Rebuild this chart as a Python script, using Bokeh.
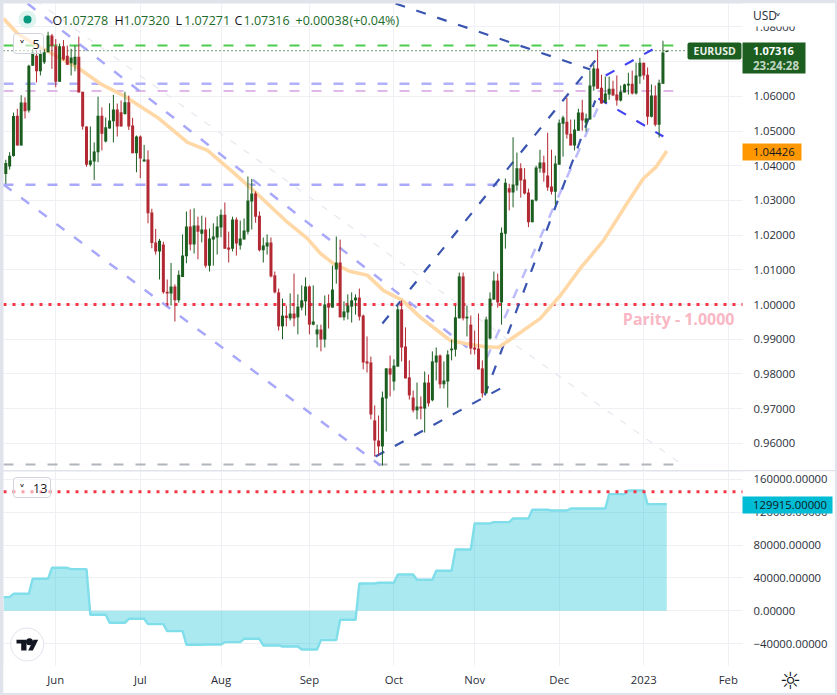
from bokeh.plotting import figure
from bokeh.layouts import column
from bokeh.models import Range1d, FixedTicker, Label, BoxAnnotation, ColumnDataSource
from bokeh.embed import file_html
from bokeh.resources import INLINE

# ---------- data ----------
opens = [1.0376,1.0398,1.0428,1.0544,1.0458,1.0582,1.0559,1.0688,1.0717,1.0672,
1.0698,1.0727,1.0775,1.0744,1.0642,1.0744,1.0717,1.0695,1.0691,1.0714,
1.0613,1.0513,1.0403,1.0412,1.0439,1.0544,1.0470,1.0507,1.0528,1.0562,
1.0554,1.0549,1.0583,1.0516,1.0436,1.0484,1.0412,1.0418,1.0265,1.0179,
1.0153,1.0173,1.0037,1.0032,1.0052,1.0012,1.0079,1.0139,1.0225,1.0173,
1.0228,1.0204,1.0216,1.0112,1.0187,1.0193,1.0222,1.0259,1.0164,1.0161,
1.0245,1.0170,1.0187,1.0210,1.0297,1.0320,1.0256,1.0156,1.0167,1.0179,
1.0084,1.0035,.9937,.9968,.9960,.9974,.9963,.9991,1.0009,1.0052,
.9942,.9914,.9928,.9899,1.0003,.9991,1.0101,1.0121,.9963,.9977,
.9994,1.0012,1.0020,.9968,.9836,.9833,.9666,.9608,.9591,.9729,
.9816,.9778,.9821,.9986,.9879,.9790,.9732,.9695,.9706,.9700,
.9775,.9724,.9833,.9853,.9770,.9778,.9868,.9870,.9960,1.0081,
.9960,.9942,.9876,.9873,.9816,.9744,.9902,1.0014,1.0069,1.0006,
1.0204,1.0335,1.0323,1.0343,1.0393,1.0360,1.0323,1.0237,1.0300,1.0392,
1.0409,1.0372,1.0340,1.0325,1.0403,1.0521,1.0527,1.0492,1.0458,1.0501,
1.0553,1.0524,1.0533,1.0628,1.0680,1.0625,1.0582,1.0605,1.0622,1.0605,
1.0588,1.0611,1.0631,1.0636,1.0608,1.0657,1.0697,1.0662,1.0541,1.0602,
1.0518,1.0636,1.07278]
closes = [1.0408,1.0429,1.0543,1.0458,1.0582,1.0557,1.0688,1.0726,1.0672,1.0723,
1.0727,1.0775,1.0746,1.0642,1.0744,1.0706,1.0691,1.0712,1.0714,1.0611,
1.0513,1.0403,1.0415,1.0441,1.0544,1.0492,1.0511,1.0530,1.0562,1.0513,
1.0513,1.0583,1.0513,1.0436,1.0484,1.0421,1.0418,1.0263,1.0177,1.0153,
1.0184,1.0035,1.0032,1.0052,1.0012,1.0086,1.0141,1.0225,1.0173,1.0228,
1.0210,1.0216,1.0112,1.0190,1.0196,1.0225,1.0259,1.0161,1.0158,1.0245,
1.0176,1.0190,1.0213,1.0300,1.0320,1.0253,1.0156,1.0170,1.0179,1.0081,
1.0035,.9937,.9968,.9961,.9974,.9960,.9994,1.0012,1.0052,.9942,
.9951,.9928,.9899,1.0000,.9991,1.0043,1.0121,.9963,.9980,.9997,
1.0012,1.0020,.9965,.9833,.9830,.9683,.9608,.9591,.9732,.9816,
.9798,.9824,.9986,.9876,.9787,.9738,.9695,.9706,.9700,.9775,
.9715,.9836,.9853,.9770,.9781,.9856,.9873,.9963,1.0081,.9960,
.9965,.9873,.9870,.9813,.9744,.9957,1.0017,1.0069,1.0006,1.0207,
1.0351,1.0323,1.0346,1.0393,1.0357,1.0320,1.0237,1.0302,1.0395,1.0409,
1.0380,1.0337,1.0325,1.0406,1.0524,1.0539,1.0490,1.0458,1.0504,1.0553,
1.0530,1.0536,1.0631,1.0680,1.0622,1.0579,1.0608,1.0622,1.0602,1.0588,
1.0613,1.0634,1.0636,1.0608,1.0660,1.0697,1.0660,1.0541,1.0602,1.0518,
1.0639,1.0726,1.07316]
highs = [1.0417,1.0439,1.0553,1.0564,1.0603,1.0597,1.0691,1.0736,1.0732,1.0734,
1.0736,1.0786,1.0780,1.0765,1.0752,1.0762,1.0746,1.0737,1.0746,1.0772,
1.0613,1.0513,1.0513,1.0467,1.0599,1.0568,1.0539,1.0580,1.0604,1.0579,
1.0588,1.0613,1.0602,1.0538,1.0487,1.0487,1.0460,1.0444,1.0276,1.0218,
1.0189,1.0181,1.0072,1.0120,1.0058,1.0098,1.0202,1.0268,1.0274,1.0277,
1.0253,1.0256,1.0251,1.0219,1.0234,1.0254,1.0274,1.0294,1.0210,1.0253,
1.0251,1.0242,1.0248,1.0369,1.0362,1.0326,1.0268,1.0193,1.0202,1.0193,
1.0095,1.0046,1.0017,.9997,1.0032,1.0089,1.0029,1.0055,1.0078,1.0055,
1.0055,.9942,.9942,1.0026,1.0029,1.0112,1.0196,1.0187,1.0009,1.0029,
1.0035,1.0029,1.0046,.9971,.9908,.9850,.9709,.9680,.9749,.9816,
.9853,.9842,.9997,1.0012,.9934,.9839,.9752,.9775,.9735,.9807,
.9798,.9865,.9876,.9856,.9836,.9868,.9899,.9997,1.0092,1.0092,
.9997,.9968,.9925,.9974,.9839,.9965,1.0035,1.0095,1.0089,1.0222,
1.0363,1.0348,1.0482,1.0438,1.0407,1.0393,1.0334,1.0302,1.0400,1.0446,
1.0429,1.0495,1.0446,1.0429,1.0533,1.0544,1.0596,1.0533,1.0533,1.0564,
1.0590,1.0550,1.0674,1.0691,1.0734,1.0662,1.0657,1.0657,1.0645,1.0660,
1.0631,1.0636,1.0668,1.0674,1.0697,1.0711,1.0697,1.0683,1.0634,1.0631,
1.0648,1.0760,1.07320]
lows = [1.0348,1.0389,1.0426,1.0458,1.0458,1.0536,1.0553,1.0688,1.0640,1.0660,
1.0693,1.0727,1.0679,1.0626,1.0642,1.0703,1.0691,1.0660,1.0672,1.0611,
1.0504,1.0397,1.0398,1.0359,1.0410,1.0444,1.0467,1.0507,1.0467,1.0484,
1.0513,1.0547,1.0503,1.0436,1.0381,1.0364,1.0412,1.0234,1.0162,1.0144,
1.0072,1.0031,.9995,.9997,.9951,1.0005,1.0079,1.0119,1.0156,1.0147,
1.0130,1.0179,1.0106,1.0095,1.0112,1.0144,1.0194,1.0161,1.0121,1.0153,
1.0141,1.0158,1.0187,1.0202,1.0216,1.0236,1.0153,1.0121,1.0144,1.0078,
1.0032,.9925,.9900,.9937,.9954,.9937,.9914,.9983,.9968,.9914,
.9940,.9876,.9865,.9876,.9931,.9991,1.0060,.9963,.9954,.9957,
.9948,.9971,.9954,.9813,.9804,.9669,.9562,.9565,.9536,.9634,
.9735,.9752,.9821,.9836,.9787,.9726,.9689,.9669,.9669,.9631,
.9706,.9721,.9781,.9758,.9758,.9703,.9839,.9850,.9960,.9954,
.9908,.9856,.9856,.9813,.9732,.9744,.9899,1.0014,.9991,.9942,
1.0161,1.0271,1.0280,1.0328,1.0308,1.0317,1.0223,1.0237,1.0297,1.0380,
1.0354,1.0328,1.0317,1.0288,1.0403,1.0426,1.0478,1.0458,1.0444,1.0501,
1.0501,1.0498,1.0533,1.0616,1.0622,1.0579,1.0579,1.0590,1.0602,1.0573,
1.0585,1.0611,1.0605,1.0605,1.0605,1.0636,1.0648,1.0518,1.0539,1.0513,
1.0481,1.0636,1.07271]

ma_bars = [-0.6,3.04,7.2,18.66,24.64,30.63,39.47,47.28,52.49,59.25,64.97,72.78,78.5,81.89,85.27,89.7,94.12,98.29,
           103.2,107.9,112.3,115.7,120.9,124.3,128.2,133.9,139.1,144.3,149.5,155.5,161.8,165.9,169.1,172]
ma_vals = [1.0824,1.0781,1.0752,1.0683,1.0636,1.0602,1.0539,1.0467,1.0444,1.0380,1.0323,1.0242,1.0190,1.0147,1.0118,1.0095,1.0084,1.0040,
           1.0012,.9963,.9925,.9896,.9885,.9879,.9876,.9919,.9960,1.0026,1.0104,1.0184,1.0294,1.0363,1.0395,1.04426]

# horizontal drawings: price, last bar, colour, width, dash
level_price = [1.07464, 1.0636, 1.0615, 1.0345, 1.0000, 0.9539]
level_end   = [173.7, 150.0, 173.7, 128.7, 191.7, 173.7]
level_color = ["#4ccc4c", "#b0b0fb", "#dfb8e8", "#a9a9fb", "#f23645", "#b2b5be"]
level_dash  = ["10 12", "10 12", "10 12", "10 12", "3 6", "10 12"]
level_width = [2, 2.5, 2, 2.5, 3, 2]

# diagonal drawings: start bar, end bar / start price, end price
trend_bars = [(5.65,120.1),(-0.6,97.5),(7.73,175.6),(125.1,153.96),(101.4,152.1),(98.0,153.4),(96.2,128.7),(124.6,153.4),(154.2,171.1),(156.1,168.3)]
trend_vals = [(1.08674,0.98761),(1.03458,0.9536),(1.08761,0.95418),(0.98444,1.05648),(1.08674,1.06772),(0.99452,1.07032),(0.9562,0.97579),(0.97378,1.05879),(1.05937,1.04841),(1.06599,1.07349)]
trend_color = ["#a8a8fb","#a8a8fb","#e6e8ef","#bcbcfb","#3a55b0","#3a55b0","#3a55b0","#3a55b0","#4343f5","#4343f5"]
trend_width = [2.5,2.5,1.2,2.5,2.2,2.2,2.2,2.2,2.2,2.2]
trend_dash  = ["10 12","10 12","7 9","10 12","10 12","10 12","10 12","10 12","10 12","10 12"]

# weekly indicator: first bar of each hold, last bar of each hold, value
cot_start = [-0.6,2,7,12,17,22,27,32,37,42,47,52,57,62,67,72,77,82,87,92,97,102,107,112,117,122,127,132,137,142,147,152,157,162,167]
cot_end   = [1,6,11,16,21,26,31,36,41,46,51,56,61,66,71,76,81,86,91,96,101,106,111,116,121,126,131,136,141,146,151,156,161,166,172]
cot_vals  = [16640,20700,38970,52360,50740,-4870,-14610,-9740,-16240,-24760,-41400,-41000,-38150,-34100,-42200,-43430,-47080,
             -35720,-10960,33280,34100,44240,37750,48700,74690,106350,107970,112430,122990,122180,124610,124610,142070,146530,129915]
cot_limit = 144900

price_ticks = [0.96,0.97,0.98,0.99,1.00,1.01,1.02,1.03,1.04,1.05,1.06,1.07,1.08]
price_labels = ["0.96000","0.97000","0.98000","0.99000","1.00000","1.01000","1.02000","1.03000","1.04000","1.05000","1.06000","1.07000","1.08000"]
cot_ticks = [-40000,0,40000,80000,120000,160000]
cot_labels = ["\u221240000.00000","0.00000","40000.00000","80000.00000","120000.00000","160000.00000"]
month_bars = [13,35,56,79,101,122,144,166,188]
month_labels = ["Jun","Jul","Aug","Sep","Oct","Nov","Dec","2023","Feb"]

GREEN, RED, FRAME, GRID = "#1b5e20", "#b22833", "#e0e3eb", "#eff0f4"
FONT = "Open Sans"
AXIS_SIZE = "11.3px"
TOP1, TOP2 = 3, 471
H1, H2 = 467, 222

# ---------- helpers for pixel placed furniture ----------
def bx(px): return (px - 5.3) / 3.843
def by(py): return 1 + (304 - py) / 3470
def by2(py): return (610.3 - py) * 40000 / 32.85

x_range = Range1d(bx(3), bx(835))

def make(height, y0, y1, ticks, labels):
    p = figure(width=832, height=height, x_range=x_range, y_range=Range1d(y0, y1),
               output_backend="svg", toolbar_location=None, y_axis_location="right",
               min_border_left=0, min_border_top=0, min_border_right=0, min_border_bottom=0,
               outline_line_color=None, background_fill_color="white", border_fill_color="white")
    p.yaxis.ticker = FixedTicker(ticks=ticks)
    p.yaxis.major_label_overrides = dict(zip(ticks, labels))
    p.xaxis.ticker = FixedTicker(ticks=month_bars)
    p.xaxis.major_label_overrides = dict(zip(month_bars, month_labels))
    for ax in (p.xaxis, p.yaxis):
        ax.axis_line_color = None
        ax.major_tick_line_color = None
        ax.minor_tick_line_color = None
        ax.major_label_text_font = FONT
        ax.major_label_text_font_size = AXIS_SIZE
        ax.major_label_text_color = "#2a2e39"
    p.yaxis.fixed_location = bx(742)
    p.yaxis.major_label_standoff = 5
    p.xaxis.major_label_standoff = 0
    p.xgrid.ticker = FixedTicker(ticks=month_bars)
    p.ygrid.ticker = FixedTicker(ticks=ticks)
    p.grid.grid_line_color = GRID
    return p

def box(fig, fh, ftop, l, t, r, b, fill, line=None, radius=0, alpha=1.0):
    fig.add_layout(BoxAnnotation(left=l-3, right=r-3, top=fh-(t-ftop), bottom=fh-(b-ftop),
                                 left_units="screen", right_units="screen", top_units="screen", bottom_units="screen",
                                 fill_color=fill, fill_alpha=alpha, line_color=line, line_alpha=1.0, border_radius=radius,
                                 line_width=1))

def txt(fig, fh, ftop, px, py, text, color="#2a2e39", size=AXIS_SIZE, style="normal", align="left", font=FONT):
    fig.add_layout(Label(x=px-3, y=fh-(py-ftop), x_units="screen", y_units="screen", text=text,
                         text_color=color, text_font_size=size, text_font_style=style, text_font=font,
                         text_baseline="middle", text_align=align))

# ---------- main pane ----------
p = make(H1, by(470), by(3), price_ticks, price_labels)
p.xaxis.visible = False
# scale strip on the right hides the grid
p.quad(left=[bx(742)], right=[bx(836)], bottom=[by(471)], top=[by(2)], fill_color="white", line_color=None)

bars = list(range(len(opens)))
src = ColumnDataSource(dict(x=bars, o=opens, h=highs, l=lows, c=closes,
                            color=[GREEN if c >= o else RED for o, c in zip(opens, closes)]))

for price, end, col, dash, wid in zip(level_price, level_end, level_color, level_dash, level_width):
    p.line([-0.6, end], [price, price], line_color=col, line_dash=dash, line_width=wid)
p.line([-0.6, bx(687)], [closes[-1], closes[-1]], line_color=GREEN, line_dash="1 3", line_width=1.2)
for b, v, col, wid, dash in zip(trend_bars, trend_vals, trend_color, trend_width, trend_dash):
    p.line(list(b), list(v), line_color=col, line_width=wid, line_dash=dash)
p.line(ma_bars, ma_vals, line_color="#ffd8a6", line_width=3.6, line_join="round")
p.segment("x", "h", "x", "l", source=src, line_color="color", line_width=1)
p.vbar(x="x", top="o", bottom="c", width=0.78, source=src, fill_color="color", line_color=None)

# status dot
p.scatter([bx(27)], [by(19)], size=18, fill_color="#dff3ef", line_color=None)
p.scatter([bx(27)], [by(19)], size=8, fill_color="#089981", line_color=None)

# cover that cuts the top tick label, currency selector
box(p, H1, TOP1, 742, 3, 835, 26, "white")
txt(p, H1, TOP1, 752.5, 15, "USD", size="12px")
txt(p, H1, TOP1, 774.5, 18, "\u02c5", size="12px", font="DejaVu Sans")

# OHLC header
hdr_green = "#1b6b2a"
for px, letter, vx, val in [(52,"O",61.5,"1.07278"),(114,"H",123,"1.07320"),(175,"L",183.5,"1.07271"),(234,"C",243,"1.07316")]:
    txt(p, H1, TOP1, px, 20, letter, color="#131722", size="12.5px")
    txt(p, H1, TOP1, vx, 20, val, color=hdr_green, size="12.5px")
txt(p, H1, TOP1, 295, 20, "+0.00038", color=hdr_green, size="12.5px")
txt(p, H1, TOP1, 349, 20, "(+0.04%)", color=hdr_green, size="12.5px")

# collapse chip
box(p, H1, TOP1, 13, 33, 43, 53, "white", line="#d1d4dc", radius=3, alpha=0.55)
txt(p, H1, TOP1, 18.5, 45.5, "\u02c5", color="#131722", size="12px", font="DejaVu Sans")
txt(p, H1, TOP1, 32, 43.5, "5", color="#131722", size="12.5px")

# parity caption
txt(p, H1, TOP1, 734, 318, "Parity - 1.0000", color="#f9b7c4", size="16px", style="bold", align="right")

# right side tags
box(p, H1, TOP1, 687, 42, 741, 59, GREEN, radius=2)
txt(p, H1, TOP1, 693, 50.5, "EURUSD", color="#e8f1e8", size="10.5px", style="bold")
box(p, H1, TOP1, 742, 42, 805, 73, GREEN)
txt(p, H1, TOP1, 752.5, 50.5, "1.07316", color="#ffffff", style="bold", size="11px")
txt(p, H1, TOP1, 752.5, 64.5, "23:24:28", color="#c3d6c4", style="bold", size="11.5px")
box(p, H1, TOP1, 742, 143, 801, 160, "#ff9800")
txt(p, H1, TOP1, 752.5, 151.5, "1.04426", color="#131722")

# ---------- lower pane ----------
q = make(H2, by2(693), by2(471), cot_ticks, cot_labels)
q.xaxis.fixed_location = by2(665)
q.quad(left=[bx(742)], right=[bx(836)], bottom=[by2(694)], top=[by2(470)], fill_color="white", line_color=None)
q.quad(left=[bx(2)], right=[bx(836)], bottom=[by2(694)], top=[by2(665)], fill_color="white", line_color=None)

step_x, step_y = [], []
for s, e, v in zip(cot_start, cot_end, cot_vals):
    step_x += [s, e]
    step_y += [v, v]
q.varea(step_x, [0] * len(step_x), step_y, fill_color="#00bcd4", fill_alpha=0.33)
q.line(step_x, step_y, line_color="#7fdeea", line_width=2.4)
q.line([-0.6, 191.7], [cot_limit, cot_limit], line_color="#f23645", line_dash="3 6", line_width=3)

box(q, H2, TOP2, 13, 477, 50, 497, "white", line="#d1d4dc", radius=3, alpha=0.55)
txt(q, H2, TOP2, 18.5, 489.5, "\u02c5", color="#131722", size="12px", font="DejaVu Sans")
txt(q, H2, TOP2, 32.5, 487.5, "13", color="#131722", size="12.5px")

box(q, H2, TOP2, 742, 496, 832, 513, "#00bcd4")
txt(q, H2, TOP2, 752.5, 504.5, "129915.00000", color="#131722")

# logo
q.scatter([bx(26.7)], [by2(644)], size=33, fill_color="white", line_color="#e0e3eb", line_width=1)
q.patch([bx(v) for v in (16,26,26,20.7,20.7,16)], [by2(v) for v in (639.3,639.3,650,650,643,643)], fill_color="#131722", line_color=None)
q.patch([bx(v) for v in (33,37.7,32.3,27.7)], [by2(v) for v in (639.3,639.3,650,650)], fill_color="#131722", line_color=None)
q.scatter([bx(29)], [by2(641.3)], size=7, fill_color="#131722", line_color=None)
# settings icon
txt(q, H2, TOP2, 790, 680, "\u263c", color="#131722", size="24px", align="center", font="DejaVu Sans")

p.margin = (3, 2, 0, 3)
q.margin = (1, 2, 2, 3)
layout = column(p, q, width=837, height=695, margin=(0, 0, 0, 0), styles={"background-color": FRAME})

open("out.html", "w").write(file_html(layout, INLINE))
